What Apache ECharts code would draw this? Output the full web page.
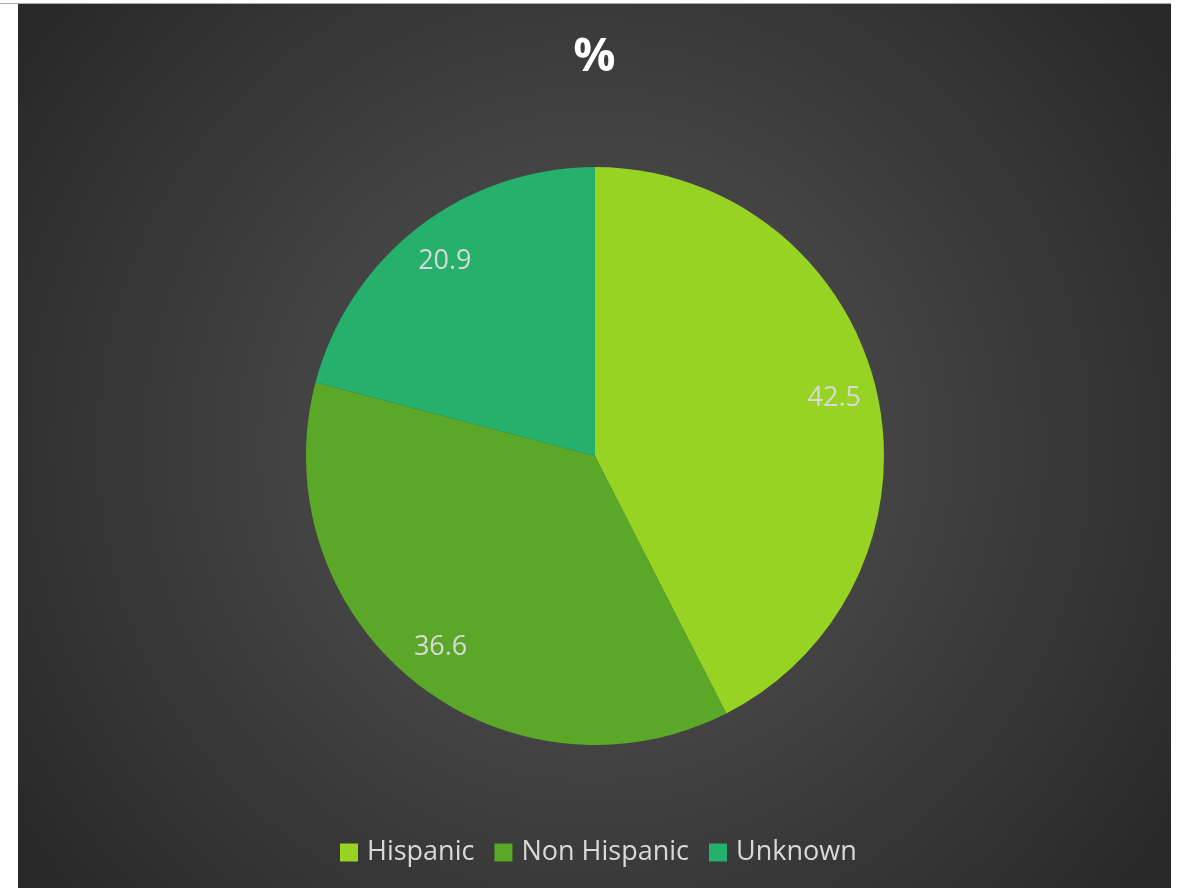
<!DOCTYPE html>
<html>
<head>
<meta charset="utf-8">
<script src="https://cdn.jsdelivr.net/npm/echarts@6/dist/echarts.min.js"></script>
<style>
  html, body { margin: 0; padding: 0; background: #ffffff; }
  #rule { position: absolute; left: 0; top: 3px; width: 1171px; height: 1px; background: #a8a8a8; }
  #chart { position: absolute; left: 18px; top: 4px; width: 1153px; height: 884px; }
</style>
</head>
<body>
<div id="rule"></div>
<div id="chart"></div>
<script>
// Share of records by ethnicity (%)
const categories = ['Hispanic', 'Non Hispanic', 'Unknown'];
const percentValues = [42.5, 36.6, 20.9];
const sliceColors = ['#97d322', '#5ba828', '#25b06b'];

const pieData = categories.map((name, i) => ({ name, value: percentValues[i] }));

const chart = echarts.init(document.getElementById('chart'), null, { renderer: 'canvas' });

const FONT = '"Open Sans", "DejaVu Sans", sans-serif';
const CENTER = [577, 452];
const R = 289;

chart.setOption({
  backgroundColor: new echarts.graphic.RadialGradient(0.5, 0.5, 0.8, [
    { offset: 0, color: '#565656' },
    { offset: 1, color: '#282828' }
  ]),
  color: sliceColors,
  animation: false,
  title: {
    text: '%',
    left: 'center',
    top: 25,
    textStyle: { color: '#ffffff', fontSize: 47, fontWeight: 'bold', fontFamily: FONT }
  },
  legend: {
    data: categories,
    bottom: 17,
    left: 317,
    icon: 'rect',
    itemWidth: 18,
    itemHeight: 18,
    itemGap: 20,
    textStyle: { color: '#d9d9d9', fontSize: 27, fontFamily: FONT, padding: [0, 0, 0, 4] }
  },
  series: [
    {
      type: 'pie',
      center: CENTER,
      radius: [0, R],
      startAngle: 90,
      clockwise: true,
      data: pieData,
      label: { show: false },
      labelLine: { show: false },
      itemStyle: { borderWidth: 0 },
      emphasis: { disabled: true }
    },
    {
      // ring used only to place value labels near the rim
      type: 'pie',
      center: CENTER,
      radius: [Math.round(R * 0.68), R],
      startAngle: 90,
      clockwise: true,
      silent: true,
      data: pieData,
      itemStyle: { color: 'rgba(0,0,0,0)' },
      label: {
        show: true,
        position: 'inside',
        formatter: p => p.value.toFixed(1),
        color: '#d9d9d9',
        fontSize: 27,
        fontFamily: FONT
      },
      labelLine: { show: false },
      emphasis: { disabled: true }
    }
  ]
});
</script>
</body>
</html>
